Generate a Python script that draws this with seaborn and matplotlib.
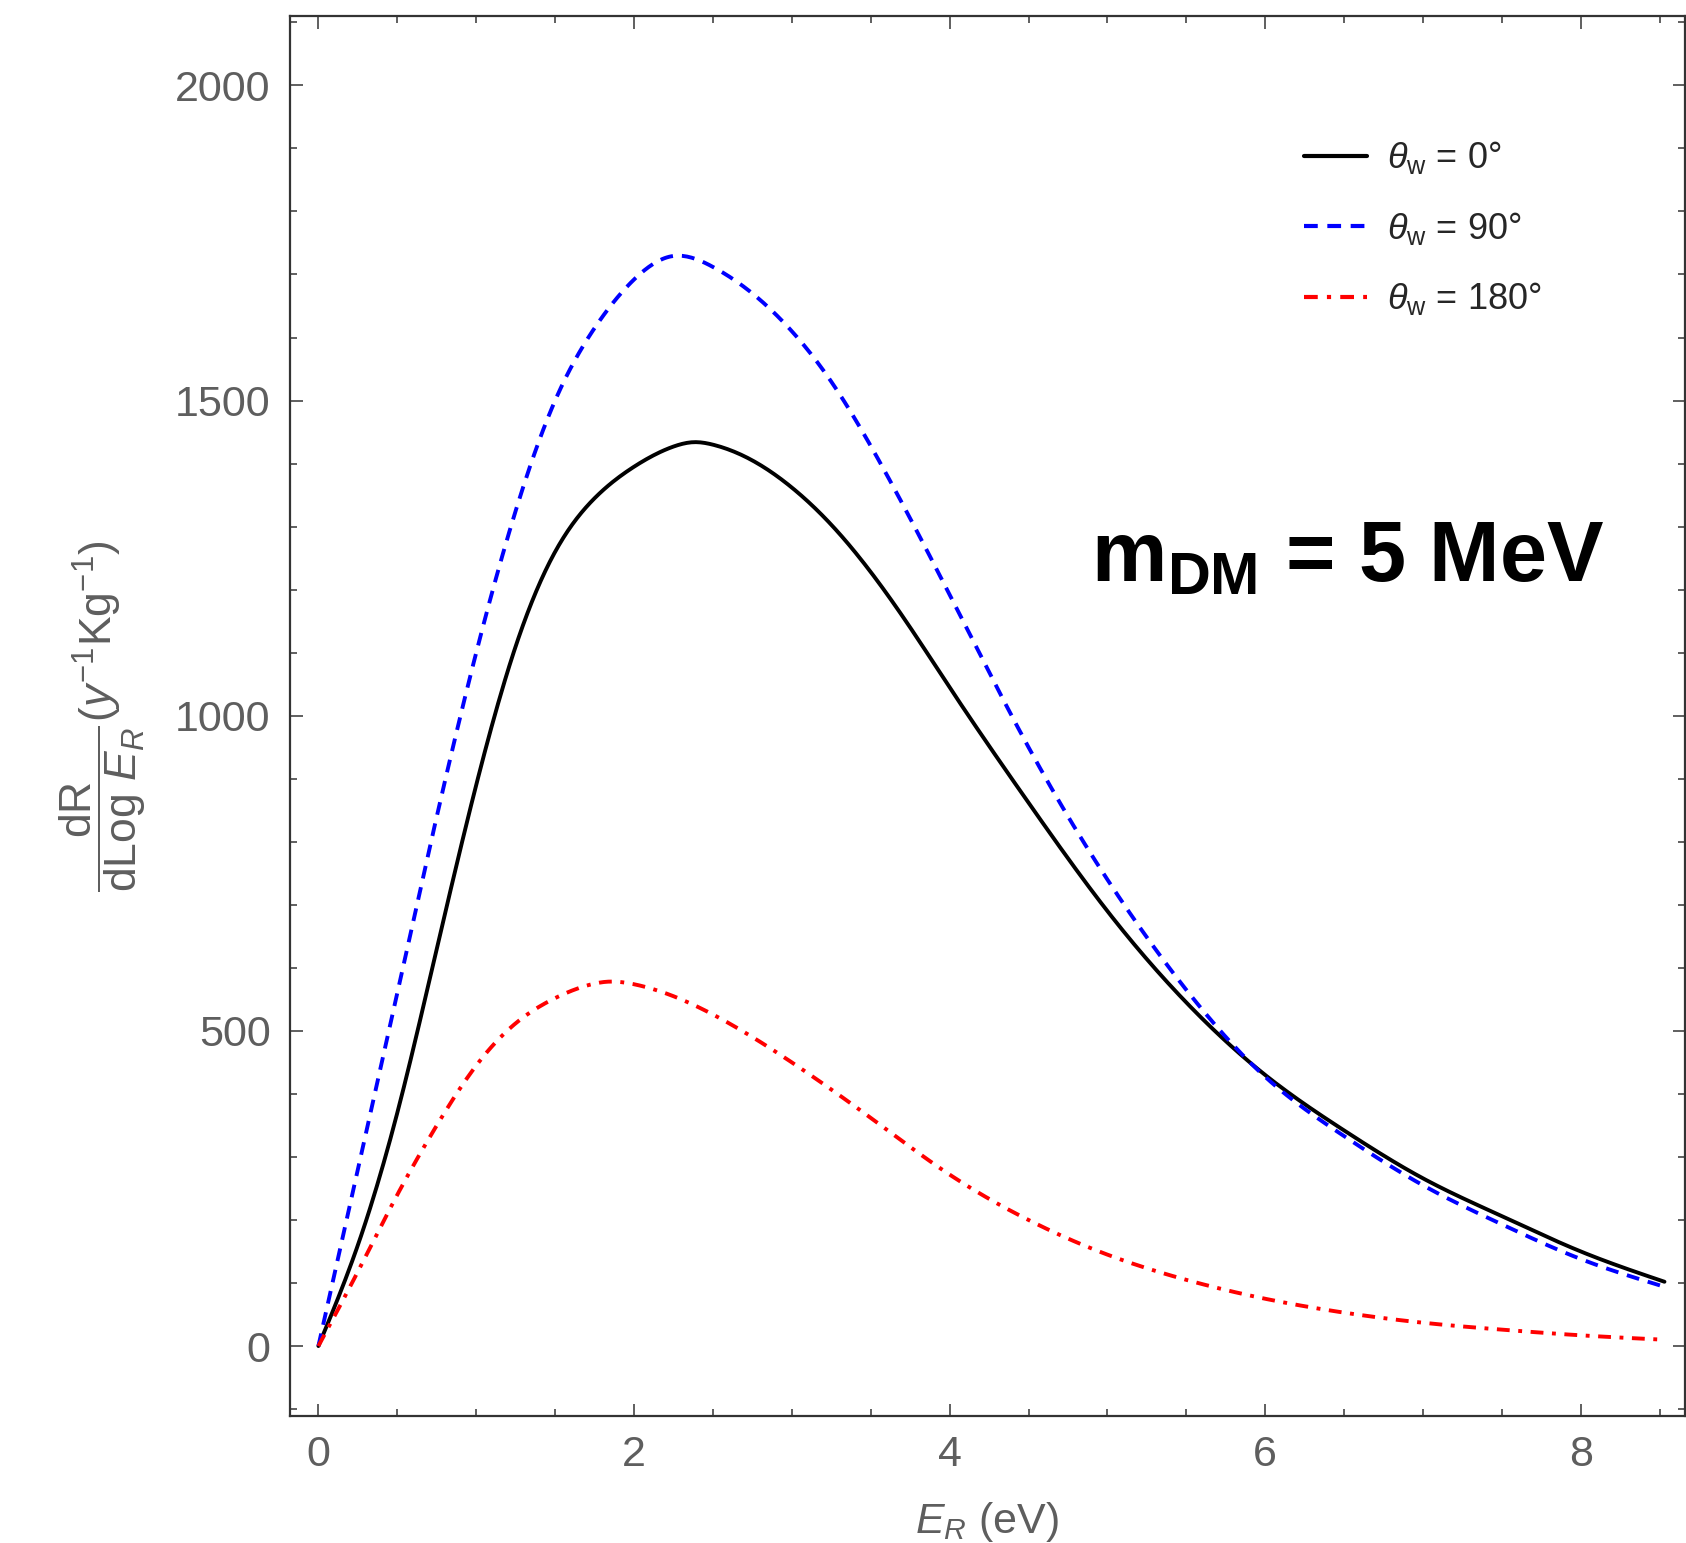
import numpy as np
import pandas as pd
import seaborn as sns
import matplotlib
matplotlib.use("Agg")
import matplotlib.pyplot as plt
from matplotlib.ticker import MultipleLocator

# ---- data ----
x_black = [0, 0.25, 0.5, 0.75, 1.0, 1.25, 1.5, 1.75, 2.0, 2.25, 2.38, 2.5, 2.75, 3.0, 3.25, 3.5, 3.75, 4.0, 4.5, 5.0, 5.5, 6.0, 6.5, 7.0, 7.5, 8.0, 8.53]
y_black = [0, 160, 370, 630, 890, 1110, 1260, 1345, 1395, 1427, 1434, 1430, 1405, 1362, 1303, 1228, 1140, 1045, 862, 690, 545, 430, 342, 266, 206, 150, 102]

x_blue = [0, 0.25, 0.5, 0.75, 1.0, 1.25, 1.5, 1.75, 2.0, 2.24, 2.5, 2.75, 3.0, 3.25, 3.5, 3.75, 4.0, 4.5, 5.0, 5.5, 6.0, 6.5, 7.0, 7.5, 8.0, 8.53]
y_blue = [0, 280, 560, 840, 1100, 1325, 1500, 1615, 1692, 1729, 1712, 1670, 1610, 1530, 1428, 1313, 1192, 950, 740, 565, 427, 333, 255, 193, 138, 94]

x_red = [0, 0.25, 0.5, 0.75, 1.0, 1.25, 1.5, 1.75, 1.83, 2.0, 2.25, 2.5, 3.0, 3.5, 4.0, 4.5, 5.0, 5.5, 6.0, 6.5, 7.0, 7.5, 8.0, 8.53]
y_red = [0, 118, 240, 350, 445, 512, 552, 575, 578, 574, 555, 526, 450, 362, 272, 200, 145, 105, 75, 53, 37, 26, 17, 10]

labels = [r"$\theta_{\mathrm{w}}$ = 0°", r"$\theta_{\mathrm{w}}$ = 90°", r"$\theta_{\mathrm{w}}$ = 180°"]
colors = ["#000000", "#0000ff", "#ff0000"]
x_ticks = [0, 2, 4, 6, 8]
y_ticks = [0, 500, 1000, 1500, 2000]


def smooth(xs, ys, n=600):
    """Natural cubic spline through the read points."""
    xs = np.asarray(xs, float); ys = np.asarray(ys, float)
    N = len(xs)
    h = np.diff(xs)
    A = np.zeros((N, N)); b = np.zeros(N)
    A[0, 0] = 1; A[-1, -1] = 1
    for i in range(1, N - 1):
        A[i, i - 1] = h[i - 1]
        A[i, i] = 2 * (h[i - 1] + h[i])
        A[i, i + 1] = h[i]
        b[i] = 6 * ((ys[i + 1] - ys[i]) / h[i] - (ys[i] - ys[i - 1]) / h[i - 1])
    M = np.linalg.solve(A, b)
    xx = np.linspace(xs[0], xs[-1], n)
    idx = np.clip(np.searchsorted(xs, xx) - 1, 0, N - 2)
    x0 = xs[idx]; x1 = xs[idx + 1]; hh = h[idx]
    yy = (M[idx] * (x1 - xx) ** 3 / (6 * hh) + M[idx + 1] * (xx - x0) ** 3 / (6 * hh)
          + (ys[idx] / hh - M[idx] * hh / 6) * (x1 - xx)
          + (ys[idx + 1] / hh - M[idx + 1] * hh / 6) * (xx - x0))
    return xx, yy


frames = []
for xs, ys, lab in [(x_black, y_black, labels[0]), (x_blue, y_blue, labels[1]), (x_red, y_red, labels[2])]:
    xx, yy = smooth(xs, ys)
    frames.append(pd.DataFrame({"E": xx, "R": yy, "series": lab}))
df = pd.concat(frames, ignore_index=True)

sns.set_style("ticks")
plt.rcParams["font.family"] = ["Liberation Sans", "DejaVu Sans"]
plt.rcParams["mathtext.fontset"] = "custom"
plt.rcParams["mathtext.rm"] = "Liberation Sans"
plt.rcParams["mathtext.it"] = "Liberation Sans:italic"
plt.rcParams["mathtext.bf"] = "Liberation Sans:bold"

fig = plt.figure(figsize=(16.86, 15.43), dpi=100)
ax = fig.add_axes([0.172, 0.0823, 0.8274, 0.9073])

sns.lineplot(data=df, x="E", y="R", hue="series", style="series",
             palette=dict(zip(labels, colors)),
             dashes={labels[0]: "", labels[1]: (3.3, 2.3), labels[2]: (3.3, 2.2, 1.0, 2.2)},
             linewidth=2.8, ax=ax, legend=True, sort=False, estimator=None)

ax.set_xlim(-0.18, 8.66)
ax.set_ylim(-111, 2110)
ax.set_xticks(x_ticks)
ax.set_yticks(y_ticks)
ax.xaxis.set_minor_locator(MultipleLocator(0.5))
ax.yaxis.set_minor_locator(MultipleLocator(100))
tick_col = "#5e5e5e"
ax.tick_params(which="both", direction="in", top=True, right=True, colors="#444444",
               labelcolor=tick_col, labelsize=31, width=1.2)
ax.tick_params(which="major", length=9, pad=14)
ax.tick_params(which="minor", length=5)
for s in ax.spines.values():
    s.set_linewidth(1.6)
    s.set_color("#333333")

ax.set_xlabel(r"$E_R$ (eV)", fontsize=31, color=tick_col, labelpad=18)
ax.set_ylabel(r"$\dfrac{\mathrm{dR}}{\mathrm{dLog}\ E_R}(y^{-1}\mathrm{Kg}^{-1})$",
              fontsize=32, color=tick_col)
ax.yaxis.set_label_coords(-0.102, 0.5)

leg = ax.legend(loc="upper left", bbox_to_anchor=(0.727, 0.912), frameon=False,
                fontsize=26, handlelength=1.75, handletextpad=0.55, labelspacing=0.93,
                borderaxespad=0, borderpad=0)
for h in leg.get_lines():
    h.set_linewidth(3.0)

ax.text(0.574, 0.612, r"m$_{\mathbf{DM}}$ = 5 MeV", transform=ax.transAxes,
        fontsize=61, fontweight="bold", color="black", ha="left", va="center")

fig.savefig("out.png", dpi=100)
